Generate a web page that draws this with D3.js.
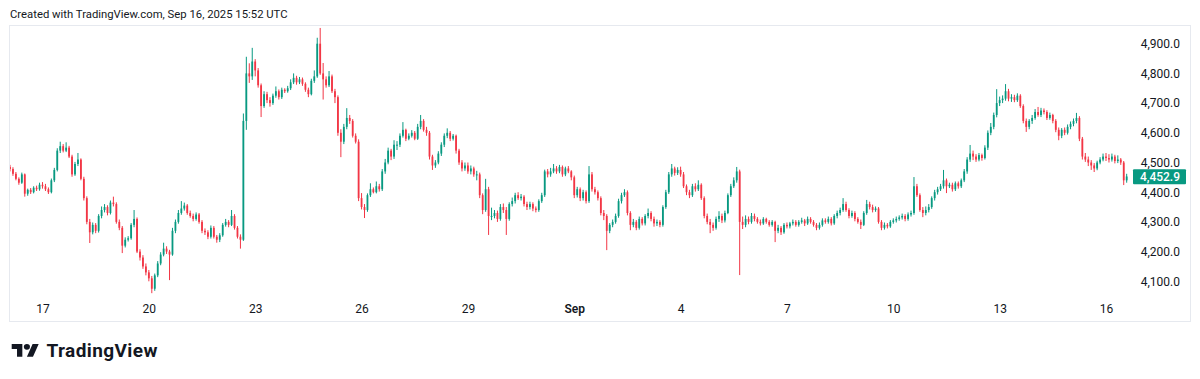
<!DOCTYPE html>
<html><head><meta charset="utf-8">
<script src="https://cdn.jsdelivr.net/npm/d3@7"></script>
<style>html,body{margin:0;padding:0;background:#fff;}svg{display:block;}</style>
</head><body>
<svg id="c" width="1200" height="379"></svg>
<script>
// ETH/USD, 2-hour candles, from 2025-08-16 02:00 UTC
const startTime = "2025-08-16T02:00:00Z";
const stepHours = 2;
const firstOpen = 4485;
const closes = [
4478,4462,4445,4432,4460,4395,4408,4400,4415,4410,4425,
4420,4410,4400,4440,4475,4540,4555,4540,4550,4520,4460,4495,
4510,4445,4380,4300,4265,4290,4270,4320,4340,4350,4330,4365,
4360,4300,4280,4220,4240,4245,4290,4310,4200,4180,4150,4130,
4110,4075,4120,4160,4190,4210,4200,4190,4270,4300,4330,4345,
4355,4330,4320,4310,4325,4300,4270,4265,4250,4280,4250,4240,
4255,4290,4300,4290,4320,4280,4250,4240,4640,4800,4790,4840,
4810,4760,4690,4730,4710,4700,4725,4740,4720,4745,4740,4750,
4770,4785,4770,4780,4765,4745,4730,4775,4790,4900,4800,4780,
4760,4790,4740,4720,4600,4570,4620,4650,4640,4590,4570,4380,
4350,4340,4390,4410,4400,4420,4410,4470,4500,4540,4520,4560,
4560,4590,4610,4580,4590,4600,4580,4620,4640,4610,4600,4520,
4490,4500,4530,4560,4590,4600,4580,4590,4540,4500,4480,4490,
4470,4480,4460,4460,4390,4340,4410,4320,4320,4330,4310,4350,
4340,4310,4360,4370,4390,4380,4385,4360,4350,4360,4345,4340,
4370,4390,4470,4460,4470,4480,4470,4485,4460,4480,4470,4450,
4390,4410,4380,4400,4370,4460,4410,4400,4380,4330,4320,4270,
4290,4300,4320,4370,4390,4400,4330,4290,4300,4280,4310,4295,
4320,4330,4310,4295,4300,4290,4350,4400,4460,4480,4465,4475,
4460,4420,4400,4390,4420,4410,4425,4380,4320,4300,4290,4280,
4310,4320,4305,4330,4390,4420,4440,4470,4300,4290,4310,4300,
4320,4310,4300,4295,4310,4300,4290,4300,4270,4280,4265,4290,
4285,4295,4300,4290,4300,4305,4295,4310,4300,4290,4280,4290,
4305,4300,4310,4295,4320,4330,4340,4360,4340,4320,4330,4310,
4300,4290,4330,4360,4350,4340,4345,4300,4280,4290,4285,4300,
4305,4310,4315,4320,4310,4325,4330,4420,4390,4340,4330,4340,
4350,4380,4400,4410,4420,4440,4420,4425,4410,4430,4420,4440,
4470,4510,4530,4520,4510,4525,4515,4550,4600,4620,4660,4700,
4710,4715,4740,4715,4720,4710,4725,4690,4640,4620,4640,4650,
4670,4660,4675,4670,4650,4660,4640,4610,4590,4610,4600,4620,
4630,4640,4650,4580,4520,4510,4500,4490,4480,4500,4510,4520,
4515,4510,4520,4505,4510,4500,4440,4452.9
];
const highs = [
4492,4484,4468,4450,4466,4463,4412,4414,4420,4422,4432,
4434,4428,4416,4446,4482,4548,4570,4562,4568,4556,4526,4502,
4532,4514,4452,4386,4310,4298,4296,4326,4352,4360,4356,4372,
4385,4366,4308,4286,4248,4252,4296,4340,4315,4208,4188,4160,
4138,4118,4126,4168,4198,4230,4218,4206,4280,4308,4340,4370,
4365,4360,4338,4328,4332,4330,4306,4278,4272,4288,4286,4256,
4262,4296,4310,4306,4340,4326,4286,4258,4665,4856,4834,4886,
4848,4818,4766,4740,4738,4720,4732,4756,4746,4752,4750,4758,
4780,4800,4792,4788,4786,4770,4752,4782,4810,4920,4953,4835,
4790,4808,4796,4748,4726,4612,4630,4683,4660,4646,4598,4578,
4397,4360,4396,4430,4416,4436,4428,4478,4512,4550,4546,4575,
4572,4598,4636,4614,4598,4609,4606,4630,4660,4646,4620,4606,
4526,4508,4538,4568,4598,4615,4606,4596,4594,4546,4508,4500,
4500,4490,4486,4472,4466,4396,4445,4418,4348,4340,4338,4360,
4362,4350,4366,4382,4398,4400,4394,4390,4368,4368,4366,4352,
4376,4398,4476,4478,4482,4495,4488,4492,4490,4486,4488,4474,
4456,4418,4416,4408,4406,4488,4468,4418,4406,4386,4340,4326,
4296,4308,4328,4378,4398,4410,4406,4336,4310,4306,4318,4316,
4326,4345,4336,4318,4308,4306,4356,4408,4468,4495,4486,4484,
4486,4468,4426,4408,4428,4430,4440,4430,4386,4328,4310,4298,
4318,4336,4328,4338,4396,4428,4450,4485,4476,4318,4322,4318,
4330,4328,4316,4308,4316,4314,4306,4306,4304,4290,4286,4296,
4298,4300,4308,4306,4306,4314,4310,4318,4316,4306,4296,4298,
4312,4312,4318,4316,4326,4338,4348,4380,4368,4346,4338,4336,
4316,4308,4336,4374,4368,4358,4352,4350,4306,4298,4296,4306,
4312,4318,4322,4328,4326,4332,4338,4451,4428,4396,4350,4352,
4360,4386,4408,4418,4428,4475,4446,4432,4432,4436,4436,4446,
4478,4518,4559,4540,4528,4532,4530,4558,4608,4633,4668,4747,
4722,4726,4764,4748,4730,4728,4733,4730,4696,4648,4646,4660,
4680,4687,4684,4682,4676,4668,4664,4646,4618,4616,4618,4628,
4638,4648,4667,4656,4586,4532,4520,4508,4498,4506,4518,4530,
4532,4528,4530,4526,4524,4515,4505,4462
];
const lows = [
4470,4455,4440,4425,4428,4385,4388,4394,4396,4404,4405,
4412,4404,4394,4396,4434,4470,4532,4534,4535,4515,4452,4455,
4488,4440,4372,4292,4229,4258,4262,4264,4312,4332,4322,4325,
4352,4294,4272,4195,4214,4234,4240,4282,4195,4170,4142,4120,
4100,4060,4068,4114,4154,4184,4192,4104,4186,4262,4294,4324,
4338,4324,4314,4302,4304,4294,4262,4256,4242,4244,4244,4230,
4232,4250,4284,4282,4286,4274,4244,4210,4236,4610,4768,4778,
4790,4752,4653,4684,4700,4688,4694,4718,4712,4714,4734,4735,
4744,4764,4762,4764,4758,4738,4720,4726,4768,4785,4795,4712,
4752,4754,4734,4700,4590,4518,4562,4612,4630,4584,4564,4370,
4342,4313,4334,4384,4396,4396,4402,4404,4462,4494,4508,4512,
4542,4552,4584,4572,4575,4584,4575,4576,4612,4604,4590,4510,
4475,4482,4494,4522,4552,4582,4572,4574,4530,4492,4470,4472,
4462,4460,4452,4440,4380,4326,4334,4256,4306,4312,4300,4304,
4330,4256,4304,4352,4362,4374,4372,4352,4340,4342,4336,4332,
4334,4364,4384,4450,4452,4464,4462,4464,4452,4454,4464,4440,
4380,4382,4370,4372,4362,4364,4402,4392,4372,4322,4306,4205,
4262,4282,4294,4314,4362,4384,4322,4272,4282,4272,4274,4288,
4288,4312,4302,4284,4286,4282,4284,4344,4394,4452,4456,4458,
4452,4414,4390,4380,4384,4402,4404,4374,4312,4292,4262,4270,
4274,4300,4296,4298,4326,4384,4414,4432,4121,4276,4282,4292,
4294,4302,4294,4288,4290,4294,4284,4284,4232,4262,4256,4260,
4278,4278,4288,4284,4284,4294,4286,4290,4294,4284,4272,4274,
4284,4294,4294,4288,4290,4312,4322,4334,4334,4312,4314,4302,
4294,4276,4286,4324,4342,4332,4334,4294,4272,4274,4278,4280,
4294,4298,4304,4308,4302,4304,4318,4324,4384,4334,4316,4322,
4332,4344,4372,4392,4404,4412,4397,4414,4402,4404,4412,4414,
4434,4462,4502,4508,4502,4504,4506,4510,4542,4592,4612,4652,
4690,4700,4708,4706,4704,4703,4704,4684,4632,4603,4612,4630,
4644,4654,4653,4662,4643,4644,4632,4602,4575,4582,4592,4594,
4612,4622,4632,4572,4510,4502,4488,4475,4468,4474,4494,4504,
4505,4500,4503,4497,4498,4492,4424,4432
];
const priceTicks = [4100,4200,4300,4400,4500,4600,4700,4800,4900];
const timeTickDates = ["2025-08-17","2025-08-20","2025-08-23","2025-08-26","2025-08-29","2025-09-01","2025-09-04","2025-09-07","2025-09-10","2025-09-13","2025-09-16"];
const timeTickLabels = ["17","20","23","26","29","Sep","4","7","10","13","16"];
const lastPrice = 4452.9;
const headerText = "Created with TradingView.com, Sep 16, 2025 15:52 UTC";

const UP = "#089981", DOWN = "#F23645", TXT = "#131722";
const FONT = "Roboto, 'Noto Sans', sans-serif";

const t0 = new Date(startTime).getTime();
const candles = closes.map((c, i) => ({
  t: new Date(t0 + i * stepHours * 3600e3),
  o: i === 0 ? firstOpen : closes[i - 1],
  h: highs[i], l: lows[i], c: c
}));

const svg = d3.select("#c");
const x = d3.scaleUtc()
  .domain([new Date("2025-08-17T00:00:00Z"), new Date("2025-09-16T00:00:00Z")])
  .range([42.5, 1106]);
const y = d3.scaleLinear().domain([4100, 4900]).range([281.3, 43.7]);

// header
svg.append("text").attr("x", 10).attr("y", 18.3).attr("font-family", FONT)
  .attr("font-size", 11.3).attr("fill", TXT).text(headerText);

// pane border
svg.append("rect").attr("x", 9.5).attr("y", 25.5).attr("width", 1181).attr("height", 296)
  .attr("fill", "none").attr("stroke", "#e6e9ef").attr("stroke-width", 1);

svg.append("clipPath").attr("id", "plot").append("rect")
  .attr("x", 10).attr("y", 26).attr("width", 1121).attr("height", 268);

const g = svg.append("g").attr("clip-path", "url(#plot)");
const bw = 1.8;
const cg = g.selectAll("g.c").data(candles).join("g")
  .attr("fill", d => d.c >= d.o ? UP : DOWN)
  .attr("stroke", d => d.c >= d.o ? UP : DOWN);
cg.append("line")
  .attr("x1", d => x(d.t)).attr("x2", d => x(d.t))
  .attr("y1", d => y(d.h)).attr("y2", d => y(d.l))
  .attr("stroke-width", 1);
cg.append("rect")
  .attr("x", d => x(d.t) - bw / 2).attr("width", bw)
  .attr("y", d => y(Math.max(d.o, d.c)))
  .attr("height", d => Math.max(1, Math.abs(y(d.o) - y(d.c))))
  .attr("stroke", "none");

// price axis
const yAxis = d3.axisRight(y).tickValues(priceTicks).tickSize(0)
  .tickFormat(d => d3.format(",.1f")(d));
const ya = svg.append("g").attr("transform", "translate(1180,0)").call(yAxis);
ya.select(".domain").remove();
ya.selectAll("text").attr("x", 0).attr("text-anchor", "end")
  .attr("font-family", FONT).attr("font-size", 12).attr("fill", TXT);

// last price label
const ly = y(lastPrice);
svg.append("rect").attr("x", 1133).attr("y", ly - 7.2).attr("width", 53).attr("height", 15)
  .attr("rx", 1).attr("fill", UP);
svg.append("text").attr("x", 1180).attr("y", ly + 4.5).attr("text-anchor", "end")
  .attr("font-family", FONT).attr("font-size", 12).attr("font-weight", 500)
  .attr("fill", "#fff").text(d3.format(",.1f")(lastPrice));

// time axis
const tDates = timeTickDates.map(s => new Date(s + "T00:00:00Z"));
const xAxis = d3.axisBottom(x).tickValues(tDates).tickSize(0)
  .tickFormat((d, i) => timeTickLabels[i]);
const xa = svg.append("g").attr("transform", "translate(0,304.5)").call(xAxis);
xa.select(".domain").remove();
xa.selectAll("text").attr("y", 0).attr("dy", "0.71em")
  .attr("font-family", FONT).attr("font-size", 12).attr("fill", TXT)
  .attr("font-weight", (d, i) => timeTickLabels[i] === "Sep" ? 600 : 400);

// TradingView logo
const logo = svg.append("g").attr("transform", "translate(11.7,341) scale(0.76,0.72)").attr("fill", "#131722");
logo.append("path").attr("d", "M14 22H7V11H0V4h14v18zM28 22h-8l7.5-18h8L28 22z");
logo.append("circle").attr("cx", 20).attr("cy", 8).attr("r", 4);
svg.append("text").attr("x", 46.5).attr("y", 356.7).attr("font-family", FONT)
  .attr("font-size", 19).attr("font-weight", 700).attr("fill", "#131722")
  .attr("letter-spacing", 0.4).text("TradingView");
</script>
</body></html>
